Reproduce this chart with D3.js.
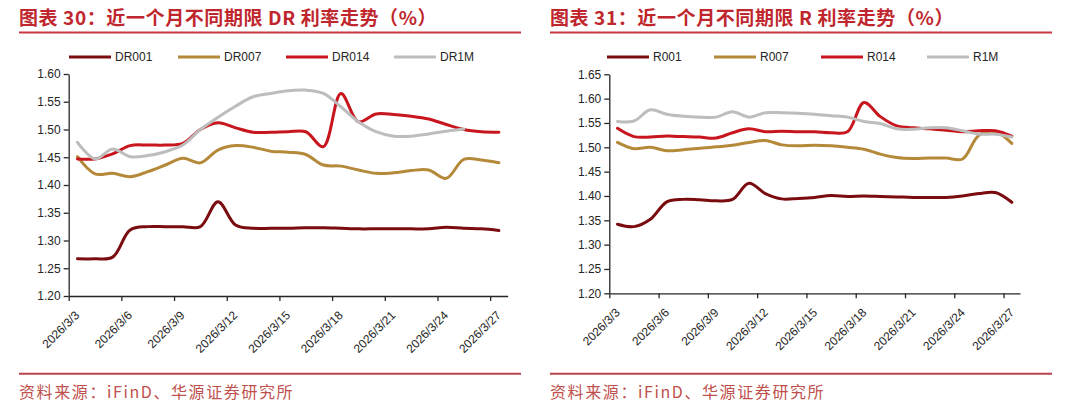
<!DOCTYPE html>
<html>
<head>
<meta charset="utf-8">
<script src="https://cdn.jsdelivr.net/npm/d3@7"></script>
<style>
  body { margin: 0; background: #fff; }
  svg { display: block; }
  .axis text { font-family: "Liberation Sans", Arial, sans-serif; font-size: 12px; fill: #262626; }
  .axis path, .axis line { stroke: #262626; stroke-width: 1.3; }
</style>
</head>
<body>
<svg id="chart" width="1080" height="409"></svg>
<script>
// categories: calendar days 2026/3/3 .. 2026/3/27
const days = ["3/3","3/4","3/5","3/6","3/7","3/8","3/9","3/10","3/11","3/12","3/13","3/14","3/15",
  "3/16","3/17","3/18","3/19","3/20","3/21","3/22","3/23","3/24","3/25","3/26","3/27"];
const tickDays = [0, 3, 6, 9, 12, 15, 18, 21, 24];
const tickLabels = ["2026/3/3","2026/3/6","2026/3/9","2026/3/12","2026/3/15","2026/3/18","2026/3/21","2026/3/24","2026/3/27"];

// DR rates (%)
const dr001 = [1.267,1.267,1.270,1.319,1.325,1.325,1.325,1.325,1.370,1.328,1.322,1.322,
  1.322,1.323,1.323,1.322,1.321,1.321,1.321,1.321,1.321,1.324,1.322,1.321,1.318];
const dr007 = [1.451,1.420,1.421,1.415,1.424,1.436,1.448,1.440,1.463,1.471,1.468,1.461,
  1.459,1.455,1.436,1.434,1.427,1.421,1.422,1.426,1.427,1.412,1.446,1.445,1.440];
const dr014 = [1.447,1.447,1.456,1.471,1.472,1.472,1.475,1.500,1.512,1.503,1.495,1.495,
  1.496,1.496,1.469,1.565,1.514,1.528,1.527,1.524,1.519,1.509,1.500,1.496,1.495];
const dr1m = [1.477,1.447,1.465,1.451,1.453,1.460,1.472,1.500,1.522,1.542,1.559,1.565,
  1.570,1.571,1.565,1.541,1.514,1.496,1.488,1.488,1.492,1.497,1.501,null,null];

// R rates (%)
const r001 = [1.342,1.337,1.352,1.388,1.393,1.392,1.390,1.393,1.426,1.405,1.394,1.395,
  1.397,1.401,1.399,1.400,1.399,1.398,1.397,1.397,1.397,1.400,1.405,1.407,1.387];
const r007 = [1.510,1.497,1.500,1.493,1.495,1.498,1.501,1.504,1.510,1.514,1.505,1.503,
  1.504,1.503,1.500,1.496,1.486,1.479,1.477,1.478,1.478,1.476,1.525,1.532,1.508];
const r014 = [1.539,1.522,1.521,1.523,1.522,1.521,1.519,1.530,1.538,1.532,1.533,1.532,
  1.532,1.530,1.532,1.592,1.563,1.544,1.540,1.538,1.535,1.532,1.534,1.534,1.523];
const r1m = [1.553,1.554,1.577,1.568,1.564,1.562,1.562,1.573,1.562,1.571,1.571,1.570,
  1.568,1.565,1.562,1.553,1.549,1.538,1.537,1.540,1.540,1.534,1.527,1.527,1.521];

const seriesColors = ["#7a0c10", "#b48a3a", "#c8161e", "#bdbdbd"];
const titleRed = "#c0262d";

const svg = d3.select("#chart");

function drawPanel(cfg) {
  const g = svg.append("g");

  // title + rule
  g.append("text")
    .attr("x", cfg.left).attr("y", 25)
    .attr("fill", titleRed)
    .style("font-family", "'Noto Sans CJK SC', sans-serif")
    .style("font-size", "19px").style("font-weight", 700)
    .style("letter-spacing", "0.6px")
    .text(cfg.title);
  g.append("line")
    .attr("x1", cfg.left).attr("x2", cfg.right)
    .attr("y1", 32.5).attr("y2", 32.5)
    .attr("stroke", "#c8373e").attr("stroke-width", 1.8);

  // legend
  cfg.names.forEach((name, i) => {
    const lx = cfg.legendX[i];
    g.append("line")
      .attr("x1", lx).attr("x2", lx + 42)
      .attr("y1", 57).attr("y2", 57)
      .attr("stroke", seriesColors[i]).attr("stroke-width", 3);
    g.append("text")
      .attr("x", lx + 46).attr("y", 61)
      .style("font-family", "'Liberation Sans', Arial, sans-serif")
      .style("font-size", "12px").attr("fill", "#262626")
      .text(name);
  });

  const x = d3.scaleLinear().domain([0, days.length]).range([cfg.x0, cfg.x1]);
  const y = d3.scaleLinear().domain(cfg.yDomain).range([cfg.yBottom, cfg.yTop]);

  const yTicks = d3.range(Math.round((cfg.yDomain[1] - cfg.yDomain[0]) / 0.05) + 1)
    .map(k => cfg.yDomain[0] + k * 0.05);

  g.append("g")
    .attr("class", "axis")
    .attr("transform", `translate(${cfg.x0},0)`)
    .call(d3.axisLeft(y).tickValues(yTicks).tickFormat(d3.format(".2f"))
      .tickSize(5).tickPadding(3).tickSizeOuter(0));

  const xAxisG = g.append("g")
    .attr("class", "axis")
    .attr("transform", `translate(0,${cfg.yBottom})`)
    .call(d3.axisBottom(x).tickValues(tickDays)
      .tickFormat((d, i) => tickLabels[i]).tickSize(5).tickSizeOuter(0));
  xAxisG.selectAll("text")
    .attr("text-anchor", "end")
    .attr("dy", null)
    .attr("y", null)
    .attr("transform", "translate(11,20) rotate(-45)");

  const line = d3.line()
    .defined(d => d != null)
    .x((d, i) => x(i + 0.5))
    .y(d => y(d))
    .curve(d3.curveCatmullRom.alpha(0.5));

  cfg.series.forEach((s, i) => {
    g.append("path")
      .datum(s)
      .attr("fill", "none")
      .attr("stroke", seriesColors[i])
      .attr("stroke-width", 3)
      .attr("stroke-linejoin", "round")
      .attr("stroke-linecap", "round")
      .attr("d", line);
  });

  // source + rule
  g.append("line")
    .attr("x1", cfg.left).attr("x2", cfg.right)
    .attr("y1", 373.8).attr("y2", 373.8)
    .attr("stroke", "#b8434b").attr("stroke-width", 2);
  g.append("text")
    .attr("x", cfg.left).attr("y", 398)
    .attr("fill", "#c0504d")
    .style("font-family", "'Noto Sans CJK SC', sans-serif")
    .style("font-size", "16px")
    .style("letter-spacing", "1.6px")
    .text("资料来源：iFinD、华源证券研究所");
}

drawPanel({
  title: "图表 30：近一个月不同期限 DR 利率走势（%）",
  left: 19, right: 521,
  names: ["DR001", "DR007", "DR014", "DR1M"],
  legendX: [69, 178, 286, 394],
  x0: 68.7, x1: 507.7,
  yDomain: [1.20, 1.60], yTop: 74, yBottom: 296,
  series: [dr001, dr007, dr014, dr1m]
});

drawPanel({
  title: "图表 31：近一个月不同期限 R 利率走势（%）",
  left: 550, right: 1052,
  names: ["R001", "R007", "R014", "R1M"],
  legendX: [607, 714, 821, 927],
  x0: 609.3, x1: 1020,
  yDomain: [1.20, 1.65], yTop: 74.3, yBottom: 293.3,
  series: [r001, r007, r014, r1m]
});
</script>
</body>
</html>
